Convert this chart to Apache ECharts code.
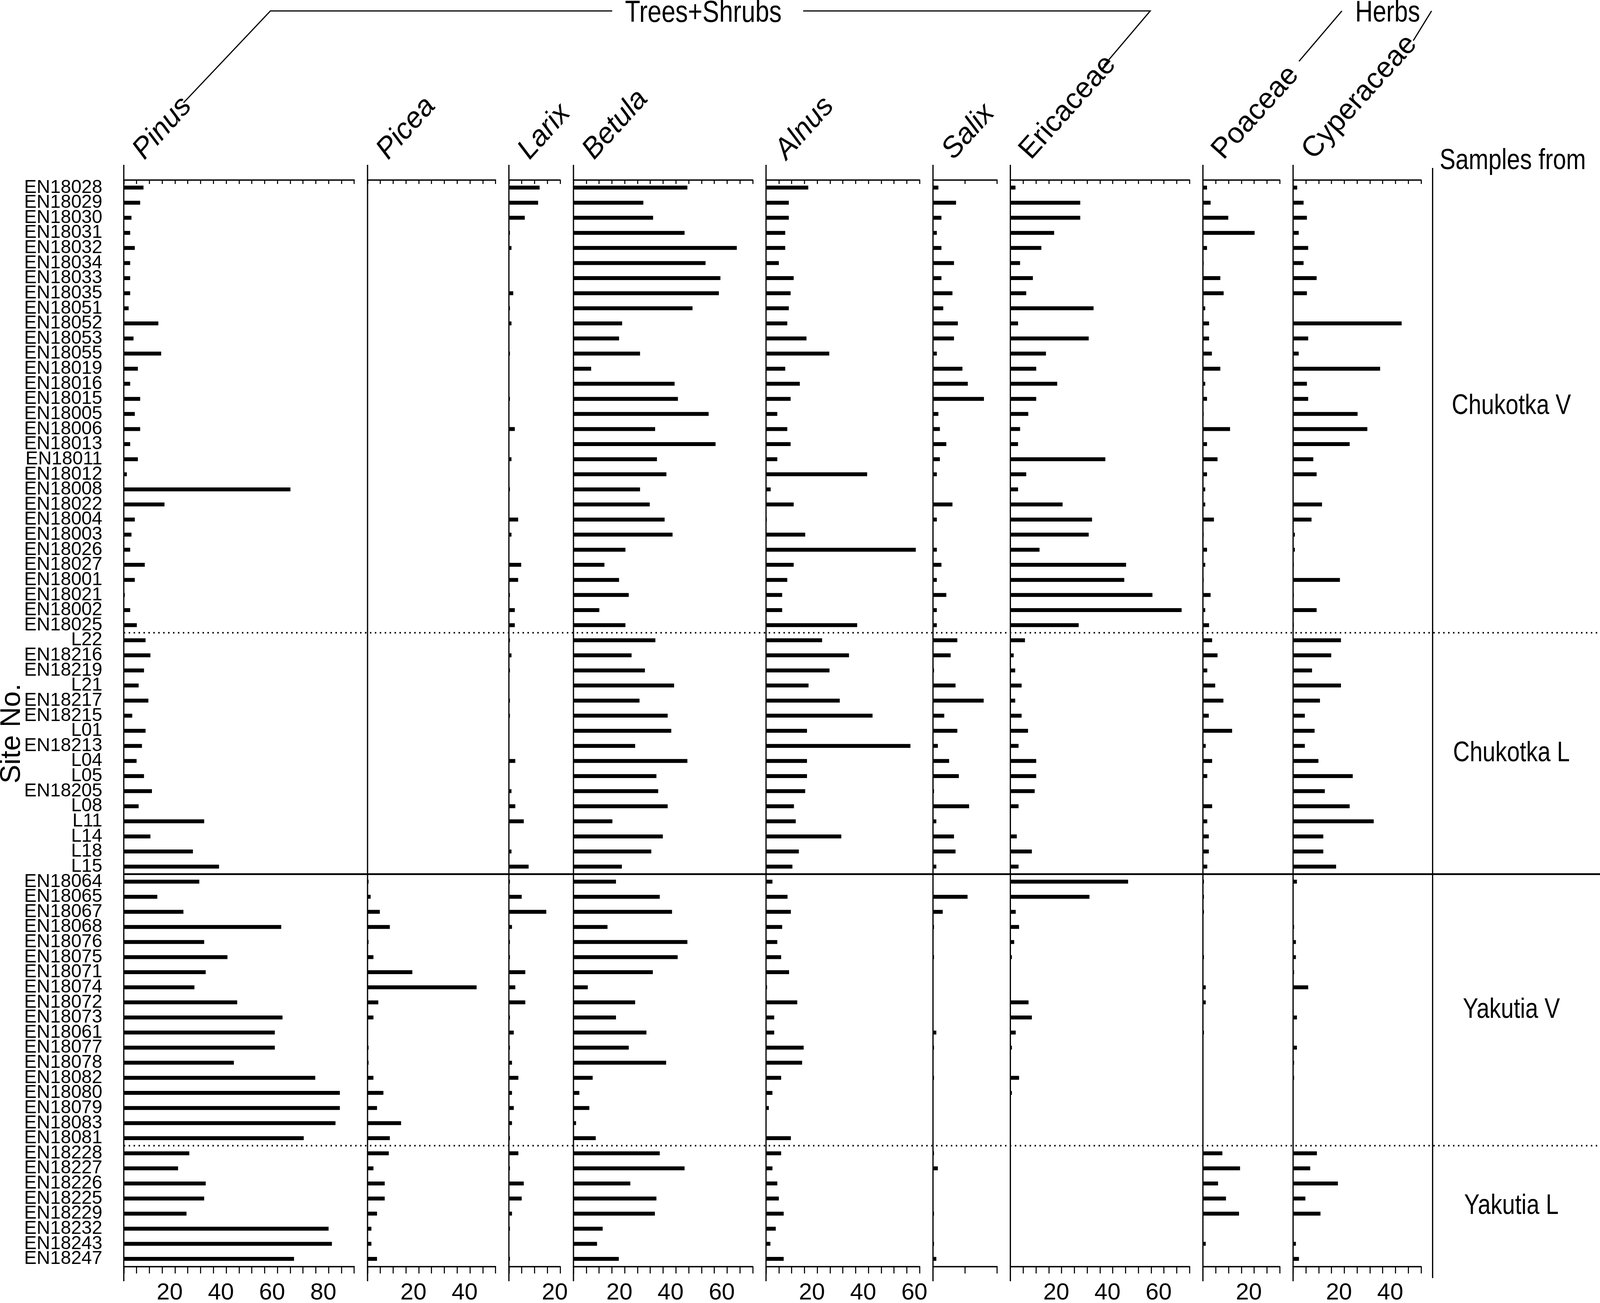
<!DOCTYPE html>
<html>
<head>
<meta charset="utf-8">
<script src="https://cdn.jsdelivr.net/npm/echarts@6/dist/echarts.min.js"></script>
<style>
html, body { margin: 0; padding: 0; background: #fff; overflow: hidden; }
#chart { width: 100vw; height: 100vh; }
</style>
</head>
<body>
<div id="chart"></div>
<script>
// Site numbers, top to bottom
var sites = [
    'EN18028','EN18029','EN18030','EN18031','EN18032','EN18034','EN18033','EN18035','EN18051','EN18052',
    'EN18053','EN18055','EN18019','EN18016','EN18015','EN18005','EN18006','EN18013','EN18011','EN18012',
    'EN18008','EN18022','EN18004','EN18003','EN18026','EN18027','EN18001','EN18021','EN18002','EN18025',
    'L22','EN18216','EN18219','L21','EN18217','EN18215','L01','EN18213','L04','L05','EN18205','L08','L11','L14','L18','L15',
    'EN18064','EN18065','EN18067','EN18068','EN18076','EN18075','EN18071','EN18074','EN18072','EN18073',
    'EN18061','EN18077','EN18078','EN18082','EN18080','EN18079','EN18083','EN18081',
    'EN18228','EN18227','EN18226','EN18225','EN18229','EN18232','EN18243','EN18247'
];
var groupNames = ['Chukotka V', 'Chukotka L', 'Yakutia V', 'Yakutia L'];
var groupSizes = [30, 16, 18, 8];

var taxa = ['Pinus', 'Picea', 'Larix', 'Betula', 'Alnus', 'Salix', 'Ericaceae', 'Poaceae', 'Cyperaceae'];
var taxaMax = [90, 50, 20, 70, 60, 25, 70, 30, 50];
var taxaItalic = [true, true, true, true, true, true, false, false, false];

// pollen percentages, one value per site
var pinus = [
    7.7, 6.4, 3.0, 2.5, 4.3, 2.5, 2.5, 2.5, 1.9, 13.5, 3.8, 14.6, 5.5, 2.5, 6.4, 4.3, 6.4, 2.5, 5.5, 1.2,
    65.1, 15.9, 4.3, 3.0, 2.5, 8.2, 4.3, 0.4, 2.5, 5.1,
    8.5, 10.4, 7.9, 5.8, 9.6, 3.3, 8.5, 7.1, 5.0, 7.9, 11.0, 5.8, 31.4, 10.4, 27.0, 37.2,
    29.5, 13.1, 23.3, 61.5, 31.4, 40.5, 32.0, 27.6, 44.3, 62.0, 59.0, 59.0, 43.0, 74.8, 84.4, 84.4, 82.7, 70.3,
    25.6, 21.2, 32.0, 31.4, 24.5, 80.0, 81.3, 66.5
];
var picea = [
    0, 0, 0, 0, 0, 0, 0, 0, 0, 0, 0, 0, 0, 0, 0, 0, 0, 0, 0, 0,
    0, 0, 0, 0, 0, 0, 0, 0, 0, 0,
    0, 0, 0, 0, 0, 0, 0, 0, 0, 0, 0, 0, 0, 0, 0, 0,
    0.4, 1.2, 4.8, 8.7, 0.4, 2.3, 17.5, 42.6, 4.2, 2.3, 0, 0.4, 0.4, 2.3, 6.2, 3.7, 13.1, 8.7,
    8.3, 2.3, 6.7, 6.7, 3.7, 1.5, 1.5, 3.7
];
var larix = [
    12.0, 11.4, 6.2, 0.4, 1.0, 0, 0, 1.7, 0.4, 1.0, 0, 0.4, 0, 0, 0.4, 0, 2.3, 0, 1.0, 0,
    0.4, 0, 3.6, 1.0, 0, 4.8, 3.6, 0.4, 2.3, 2.3,
    0.4, 1.0, 0.4, 0, 0.4, 0.4, 0, 0, 2.5, 0, 1.0, 2.5, 5.8, 0, 1.0, 7.7,
    0.4, 5.0, 14.6, 1.2, 0.4, 0.4, 6.4, 2.5, 6.4, 0.4, 1.9, 0.4, 1.2, 3.7, 1.2, 1.9, 1.2, 0.4,
    3.7, 0.4, 5.8, 5.0, 1.2, 0.4, 0, 0.4
];
var betula = [
    44.5, 27.3, 31.1, 43.4, 63.8, 51.6, 57.4, 56.8, 46.5, 19.0, 17.8, 26.0, 6.9, 39.5, 40.8, 52.8, 31.9, 55.5, 32.6, 36.3,
    26.0, 29.8, 35.6, 38.7, 20.3, 12.1, 17.8, 21.6, 10.1, 20.3,
    32.0, 22.7, 27.9, 39.3, 25.8, 36.8, 38.2, 24.1, 44.5, 32.4, 33.1, 36.8, 15.2, 34.9, 30.4, 18.9,
    16.6, 33.7, 38.5, 13.3, 44.5, 40.7, 31.0, 5.6, 24.1, 16.6, 28.5, 21.6, 36.2, 7.5, 2.3, 6.2, 1.0, 8.7,
    33.7, 43.4, 22.2, 32.4, 31.8, 11.4, 9.2, 17.7
];
var alnus = [
    16.5, 8.9, 8.9, 7.5, 7.5, 5.0, 10.8, 9.6, 8.9, 8.3, 15.8, 24.7, 7.5, 13.2, 9.6, 4.4, 8.3, 9.6, 4.4, 39.5,
    1.8, 10.8, 0.3, 15.3, 58.5, 10.8, 8.3, 6.3, 6.3, 35.6,
    21.9, 32.4, 24.8, 16.6, 28.8, 41.6, 16.0, 56.4, 16.0, 16.0, 15.3, 10.9, 11.6, 29.4, 12.8, 10.3,
    2.5, 8.4, 9.7, 6.3, 4.4, 5.9, 9.0, 0.4, 12.2, 3.2, 3.2, 14.7, 14.1, 5.9, 2.5, 1.1, 0, 9.7,
    5.9, 2.5, 4.4, 5.0, 6.9, 3.8, 1.7, 6.9
];
var salix = [
    2.1, 9.0, 3.3, 1.5, 3.3, 8.2, 3.3, 7.6, 4.0, 9.7, 8.2, 1.5, 11.5, 13.6, 19.9, 2.1, 2.7, 5.2, 2.7, 1.5,
    0, 7.6, 1.5, 0, 1.5, 3.3, 1.5, 5.2, 1.5, 1.5,
    9.5, 6.9, 0.4, 8.8, 19.8, 4.4, 9.5, 1.9, 6.3, 10.1, 0.4, 14.1, 1.3, 8.2, 8.8, 1.3,
    0, 13.5, 3.8, 0.4, 0, 0.4, 0, 0, 0, 0, 1.3, 0.4, 0, 0.4, 0, 0, 0, 0,
    0.4, 1.9, 0, 0, 0.4, 0, 0.4, 1.3
];
var ericaceae = [
    2.0, 27.3, 27.3, 17.1, 12.1, 3.8, 8.8, 6.2, 32.5, 3.0, 30.6, 13.9, 10.1, 18.3, 10.1, 7.0, 3.8, 3.0, 37.1, 6.2,
    3.0, 20.4, 31.9, 30.6, 11.4, 45.2, 44.5, 55.5, 66.9, 26.7,
    5.7, 1.3, 1.9, 4.4, 1.9, 4.4, 6.9, 3.2, 10.1, 10.1, 9.5, 3.2, 0, 2.5, 8.4, 3.2,
    46.0, 30.9, 2.1, 3.4, 1.5, 0.6, 0, 0, 7.1, 8.4, 2.1, 0.6, 0, 3.4, 0.6, 0, 0, 0,
    0, 0, 0, 0, 0, 0, 0, 0
];
var poaceae = [
    1.6, 3.0, 9.9, 20.2, 1.6, 0.3, 6.8, 8.1, 0.9, 2.4, 2.4, 3.5, 6.8, 0.9, 1.6, 0.3, 10.6, 1.6, 5.7, 1.6,
    0.9, 0.9, 4.3, 0.3, 1.6, 0.9, 0.3, 3.0, 0.9, 2.4,
    3.6, 5.7, 1.7, 4.8, 8.0, 2.3, 11.4, 1.1, 3.6, 1.7, 0, 3.6, 1.7, 2.3, 2.3, 1.7,
    0.4, 0.4, 0.4, 0, 0, 0.4, 0, 1.1, 1.1, 0, 0.4, 0, 0, 0, 0, 0, 0, 0,
    7.6, 14.5, 5.9, 9.0, 14.1, 0, 1.1, 0
];
var cyperaceae = [
    1.6, 4.1, 5.4, 2.2, 5.9, 4.1, 9.2, 5.4, 0, 42.4, 5.9, 2.2, 34.0, 5.4, 5.9, 25.2, 29.0, 22.1, 7.9, 9.2,
    0, 11.3, 7.2, 0.7, 0.7, 0.3, 18.3, 0.3, 9.2, 0.3,
    18.7, 14.9, 7.4, 18.7, 10.5, 4.6, 8.4, 4.6, 9.9, 23.3, 12.4, 22.1, 31.5, 11.8, 11.8, 16.8,
    1.5, 0, 0, 0.4, 1.1, 1.1, 0.4, 5.9, 0, 1.5, 0, 1.5, 0.4, 0.4, 0, 0, 0, 0,
    9.3, 6.7, 17.5, 4.8, 10.7, 0, 1.1, 2.3
];
var taxaValues = [pinus, picea, larix, betula, alnus, salix, ericaceae, poaceae, cyperaceae];

// layout is given in reference pixels (4550 x 3336) and scaled to the real viewport
var SX = window.innerWidth / 4550;
var SY = window.innerHeight / 3336;
function X(v) { return v * SX; }
function Y(v) { return v * SY; }

var FONT = 'Liberation Sans';
var PLOT_TOP = 461;
var ROW_H = 38.63;
var X0 = 352;          // left edge of the first panel
var UNIT = 7.28;       // px per percent, same for every panel
var GAP = 38;          // space between panels
var SAMPLES_X = 4074;
var LINE_W = 3.5;
var NARROW = 0.82;     // the reference lettering is condensed

var nRows = sites.length;
var plotBottom = PLOT_TOP + nRows * ROW_H;

var lefts = [];
var xPos = X0;
for (var i = 0; i < taxa.length; i++) {
    lefts.push(xPos);
    xPos += taxaMax[i] * UNIT + GAP;
}

var grids = [], xAxes = [], yAxes = [], series = [];
for (var i = 0; i < taxa.length; i++) {
    var tickStep = taxa[i] === 'Salix' ? 12.5 : 5;
    grids.push({
        left: X(lefts[i]),
        top: Y(PLOT_TOP),
        width: X(taxaMax[i] * UNIT),
        height: Y(nRows * ROW_H),
        outerBoundsMode: 'none'
    });
    // bottom axis with labels
    xAxes.push({
        gridIndex: i,
        type: 'value',
        position: 'bottom',
        min: 0,
        max: taxaMax[i],
        interval: tickStep,
        splitLine: { show: false },
        axisLine: { show: true, onZero: false, lineStyle: { color: '#000', width: Y(LINE_W) } },
        axisTick: { show: true, length: Y(18), lineStyle: { color: '#000', width: X(3) } },
        axisLabel: {
            show: true,
            margin: Y(38),
            fontSize: Y(60),
            fontFamily: FONT,
            color: '#000',
            padding: [0, X(30), 0, 0],
            showMinLabel: true,
            showMaxLabel: true,
            hideOverlap: false,
            formatter: function(v) {
                return (v > 0 && v % 20 === 0) ? String(v) : '';
            }
        }
    });
    // top axis, ticks only
    xAxes.push({
        gridIndex: i,
        type: 'value',
        position: 'top',
        min: 0,
        max: taxaMax[i],
        interval: tickStep,
        splitLine: { show: false },
        axisLine: { show: true, onZero: false, lineStyle: { color: '#000', width: Y(LINE_W) } },
        axisTick: { show: true, inside: true, length: Y(10), lineStyle: { color: '#000', width: X(3) } },
        axisLabel: { show: false }
    });
    yAxes.push({
        gridIndex: i,
        type: 'category',
        data: sites,
        inverse: true,
        axisLine: { show: false },
        axisTick: { show: false },
        splitLine: { show: false },
        axisLabel: i === 0 ? {
            show: true,
            interval: 0,
            margin: X(61),
            fontSize: Y(48),
            fontFamily: FONT,
            color: '#000'
        } : { show: false }
    });
    series.push({
        type: 'bar',
        name: taxa[i],
        xAxisIndex: 2 * i,
        yAxisIndex: i,
        data: taxaValues[i],
        barWidth: Y(10),
        itemStyle: { color: '#000' },
        silent: true
    });
}

// decorations
var graphics = [];
function addLine(x1, y1, x2, y2, w, dash) {
    graphics.push({
        type: 'line',
        silent: true,
        shape: { x1: X(x1), y1: Y(y1), x2: X(x2), y2: Y(y2) },
        style: { stroke: '#000', lineWidth: w, lineDash: dash || null }
    });
}
function addPolyline(points, w) {
    graphics.push({
        type: 'polyline',
        silent: true,
        shape: { points: points.map(function(p) { return [X(p[0]), Y(p[1])]; }) },
        style: { stroke: '#000', lineWidth: w, fill: null }
    });
}
function addText(txt, x, y, size, opts) {
    opts = opts || {};
    graphics.push({
        type: 'text',
        silent: true,
        x: X(x),
        y: Y(y),
        rotation: opts.rotation || 0,
        scaleX: opts.scaleX || 1,
        style: {
            text: txt,
            fill: '#000',
            fontSize: Y(size),
            fontFamily: FONT,
            fontStyle: opts.italic ? 'italic' : 'normal',
            align: opts.align || 'center',
            verticalAlign: opts.valign || 'middle'
        }
    });
}

// panel left lines run past both axes
for (var i = 0; i < taxa.length; i++) {
    addLine(lefts[i], 422, lefts[i], plotBottom + 38, X(LINE_W));
}
addLine(SAMPLES_X, 430, SAMPLES_X, plotBottom + 30, X(LINE_W));

// group separators and group names
var cum = 0;
var sepDash = [[X(4), X(10)], null, [X(4), X(10)]];
for (var g = 0; g < groupNames.length; g++) {
    var yMid = PLOT_TOP + (cum + groupSizes[g] / 2) * ROW_H;
    addText(groupNames[g], 4298, yMid, 72, { scaleX: NARROW });
    cum += groupSizes[g];
    if (g < groupNames.length - 1) {
        var ySep = PLOT_TOP + cum * ROW_H;
        addLine(X0, ySep, 4550, ySep, Y(sepDash[g] ? 4 : 4.5), sepDash[g]);
    }
}

// taxon names, slanted at 45 degrees in reference space
var slant = Math.atan2(SY, SX);
for (var i = 0; i < taxa.length; i++) {
    addText(taxa[i], lefts[i] + 72, 422, 74, {
        rotation: slant,
        italic: taxaItalic[i],
        align: 'left',
        valign: 'bottom'
    });
}

// brackets for Trees+Shrubs and Herbs
addPolyline([[522, 263], [769, 28], [1741, 28]], Y(3));
addPolyline([[2284, 28], [3271, 28], [3140, 167]], Y(3));
addText('Trees+Shrubs', 2000, 34, 78, { scaleX: NARROW });
addLine(3694, 157, 3816, 28, Y(3));
addLine(4019, 104, 4071, 28, Y(3));
addText('Herbs', 3946, 34, 76, { scaleX: NARROW });

addText('Samples from', 4302, 413, 74, { scaleX: NARROW });
addText('Site No.', 35, 1878, 72, { rotation: Math.PI / 2 });

var chart = echarts.init(document.getElementById('chart'));
chart.setOption({
    animation: false,
    backgroundColor: '#fff',
    grid: grids,
    xAxis: xAxes,
    yAxis: yAxes,
    series: series,
    graphic: graphics
});
</script>
</body>
</html>
